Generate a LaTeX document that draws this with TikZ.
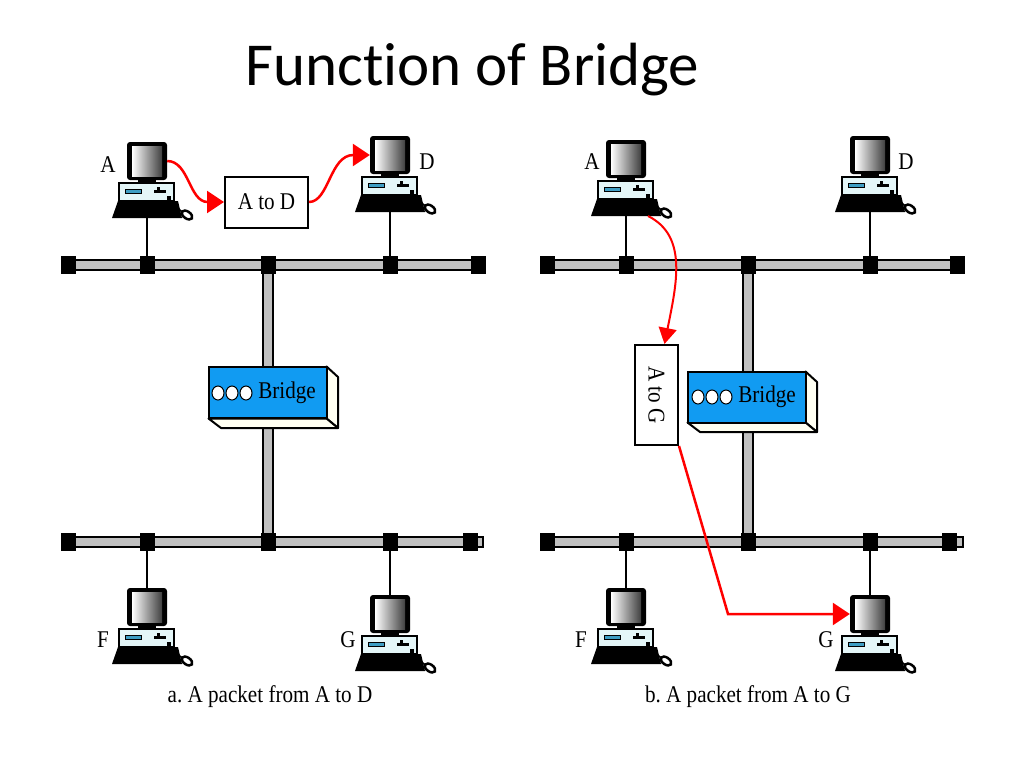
\documentclass[tikz,border=0pt]{standalone}
\usepackage{fontspec}
\usetikzlibrary{arrows.meta,calc}
\newfontfamily\titlefont{Carlito}[Ligatures=NoCommon]
\newfontfamily\lblfont{Liberation Serif}[FakeStretch=0.88]
\definecolor{bargray}{HTML}{C0C0C0}
\definecolor{bridgeblue}{HTML}{119BF2}
\definecolor{sidecol}{HTML}{FFFFF2}
\definecolor{casecol}{HTML}{E4F6F8}
\definecolor{slotcol}{HTML}{3E9EC4}
\definecolor{pktred}{HTML}{FF0000}
\tikzset{
 lbl/.style={font=\lblfont\fontsize{24}{28}\selectfont, inner sep=0pt},
 bar/.style={fill=bargray, draw=black, line width=2.2pt},
 busq/.style={rectangle, fill=black, minimum width=15pt, minimum height=18pt, inner sep=0pt},
 cable/.style={draw=black, line width=2pt},
 packet/.style={draw=black, fill=white, line width=2pt, lbl, inner sep=0pt},
 bridgebox/.style={draw=black, fill=bridgeblue, line width=2pt, minimum width=118pt, minimum height=51pt, inner sep=0pt},
 side/.style={fill=sidecol, draw=black, line width=2pt, line join=round},
 port/.style={fill=white, draw=black, line width=1pt},
 redarrow/.style={draw=pktred, line width=2.5pt, -{Triangle[length=17pt,width=22pt]}},
 redarrowb/.style={draw=pktred, line width=2pt, -{Triangle[length=16pt,width=18pt]}},
 computer/.pic={
   \node[fill=black, rounded corners=3pt, minimum width=40pt, minimum height=38pt, inner sep=0pt] (-mon) at (0,-57) {};
   \shade[left color=white, right color=black!75] (-15,-72) rectangle (15,-42);
   \fill[black] (-9,-39) rectangle (9,-34);
   \draw[fill=casecol, line width=1.2pt] (-28,-35) rectangle (27,-17);
   \draw[fill=slotcol, line width=0.8pt] (-22,-29) rectangle (-6,-25);
   \fill (7,-28) rectangle (19,-25);
   \fill (10,-31) rectangle (13,-25);
   \fill (20,-22) rectangle (24,-18);
   \fill (-29,-17) -- (31,-17) -- (35,0) -- (-35,0) -- cycle;
   \draw[line width=1.5pt] (25,-12) .. controls (31,-12) and (32,-8) .. (35,-6);
   \draw[line width=2.5pt, fill=white, rotate around={-35:(40,-3)}] (40,-3) ellipse [x radius=6, y radius=3.5];
   \coordinate (-kb) at (0,0);
   \coordinate (-kbr) at (22,0);
 }
}
\begin{document}
\frenchspacing
\begin{tikzpicture}[x=1pt,y=-1pt]
\useasboundingbox (0,0) rectangle (1024,768);
\node[font=\titlefont\fontsize{61}{70}\selectfont, anchor=base west, inner sep=0pt] (title) at (245,85) {Function of Bridge};

% vertical bars
\draw[bar] (263,265) rectangle (273,542);
\draw[bar] (743,265) rectangle (753,542);
% horizontal buses
\draw[bar] (62,260) rectangle (484,270);
\draw[bar] (62,537) rectangle (483,547);
\draw[bar] (541,260) rectangle (963,270);
\draw[bar] (541,537) rectangle (963,547);

% bus connectors
\node[busq] (tL1) at (68,265) {};
\node[busq] (tL2) at (147,265) {};
\node[busq] (tL3) at (268,265) {};
\node[busq] (tL4) at (390,265) {};
\node[busq] (tL5) at (478,265) {};
\node[busq] (bL1) at (68,542) {};
\node[busq] (bL2) at (147,542) {};
\node[busq] (bL3) at (268,542) {};
\node[busq] (bL4) at (390,542) {};
\node[busq] (bL5) at (470,542) {};
\node[busq] (tR1) at (547,265) {};
\node[busq] (tR2) at (626,265) {};
\node[busq] (tR3) at (748,265) {};
\node[busq] (tR4) at (870,265) {};
\node[busq] (tR5) at (957,265) {};
\node[busq] (bR1) at (547,542) {};
\node[busq] (bR2) at (626,542) {};
\node[busq] (bR3) at (748,542) {};
\node[busq] (bR4) at (870,542) {};
\node[busq] (bR5) at (949,542) {};

% computers
\pic (A1) at (147,218) {computer};
\pic (D1) at (390,212) {computer};
\pic (F1) at (147,664) {computer};
\pic (G1) at (390,671) {computer};
\pic (A2) at (626,216) {computer};
\pic (D2) at (870,212) {computer};
\pic (F2) at (626,664) {computer};
\pic (G2) at (870,671) {computer};

% cables
\draw[cable] (A1-kb) -- (tL2);
\draw[cable] (D1-kb) -- (tL4);
\draw[cable] (bL2) -- (F1-mon.north);
\draw[cable] (bL4) -- (G1-mon.north);
\draw[cable] (A2-kb) -- (tR2);
\draw[cable] (D2-kb) -- (tR4);
\draw[cable] (bR2) -- (F2-mon.north);
\draw[cable] (bR4) -- (G2-mon.north);

% station labels
\node[lbl] (lA1) at (108,165) {A};
\node[lbl] (lD1) at (427,162) {D};
\node[lbl] (lF1) at (103,640) {F};
\node[lbl] (lG1) at (348,640) {G};
\node[lbl] (lA2) at (592,162) {A};
\node[lbl] (lD2) at (906,162) {D};
\node[lbl] (lF2) at (581,640) {F};
\node[lbl] (lG2) at (826,640) {G};

% left bridge
\draw[side] (326.5,366.5) -- (338,377) -- (338,428) -- (326.5,418.5) -- cycle;
\draw[side] (208.5,418.5) -- (221,428) -- (338,428) -- (326.5,418.5) -- cycle;
\node[bridgebox] (br1) at (267.5,392.5) {};
\draw[port] (218,393) ellipse [x radius=6, y radius=7];
\draw[port] (232,393) ellipse [x radius=6, y radius=7];
\draw[port] (246,393) ellipse [x radius=6, y radius=7];
\node[lbl] (br1t) at (287,393) {Bridge};

% right bridge
\draw[side] (805.5,371.5) -- (817,382) -- (817,432) -- (805.5,422.5) -- cycle;
\draw[side] (687.5,422.5) -- (700,432) -- (817,432) -- (805.5,422.5) -- cycle;
\node[bridgebox] (br2) at (746.5,397) {};
\draw[port] (698,397) ellipse [x radius=6, y radius=7];
\draw[port] (712,397) ellipse [x radius=6, y radius=7];
\draw[port] (726,397) ellipse [x radius=6, y radius=7];
\node[lbl] (br2t) at (767,397) {Bridge};

% packets
\node[packet, minimum width=83pt, minimum height=51pt] (pAD) at (266.5,202) {A to D};
\node[packet, minimum width=100pt, minimum height=43pt, rotate=-90] (pAG) at (656.5,395) {A to G};

% packet paths
\draw[redarrow] (A1-mon.east) .. controls +(22,0) and +(-35,0) .. (pAD.west);
\draw[redarrow] (pAD.east) .. controls +(20,0) and +(-40,0) .. (D1-mon.west);
\draw[redarrowb] (A2-kbr) .. controls +(40,20) and +(12,-60) .. ([xshift=8pt]pAG.west);
\coordinate (bend) at (728,614);
\draw[redarrow] (pAG.north east) -- (bend) -- (G2-mon.west);

% captions
\node[lbl] (capA) at (270,697) {a. A packet from A to D};
\node[lbl] (capB) at (748,697) {b. A packet from A to G};
\end{tikzpicture}
\end{document}
